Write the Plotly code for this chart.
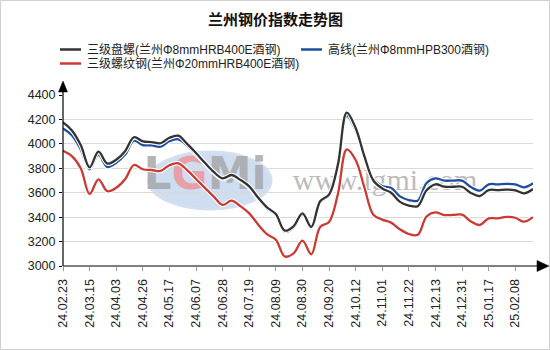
import plotly.graph_objects as go

# ---------------- data ----------------
tick_labels = ["24.02.23", "24.03.15", "24.04.03", "24.04.26", "24.05.17", "24.06.07",
               "24.06.28", "24.07.19", "24.08.09", "24.08.30", "24.09.20", "24.10.12",
               "24.11.01", "24.11.22", "24.12.13", "24.12.31", "25.01.17", "25.02.08"]
points_per_label = 3

pan_luo = [4176, 4110, 3990, 3808, 3936, 3838, 3870, 3940, 4054, 4020, 4015, 4005,
           4050, 4067, 4000, 3925, 3845, 3770, 3718, 3745, 3705, 3652, 3560, 3480,
           3425, 3290, 3325, 3431, 3320, 3530, 3585, 3830, 4255, 4130, 3895, 3700,
           3635, 3600, 3525, 3495, 3490, 3620, 3669, 3649, 3649, 3649, 3598, 3573,
           3622, 3622, 3626, 3620, 3595, 3630]
gao_xian = [4127, 4070, 3955, 3792, 3909, 3810, 3845, 3912, 4026, 3990, 3988, 3977,
            4022, 4037, 3985, 3915, 3840, 3765, 3712, 3738, 3700, 3645, 3550, 3470,
            3415, 3280, 3315, 3420, 3312, 3520, 3578, 3815, 4230, 4110, 3895, 3710,
            3655, 3640, 3570, 3540, 3535, 3680, 3718, 3699, 3699, 3699, 3646, 3617,
            3669, 3669, 3673, 3668, 3644, 3677]
luo_wen = [3944, 3900, 3800, 3590, 3710, 3612, 3640, 3710, 3827, 3792, 3786, 3778,
           3825, 3841, 3785, 3712, 3640, 3568, 3500, 3535, 3490, 3431, 3340, 3260,
           3215, 3078, 3104, 3207, 3096, 3320, 3360, 3590, 3955, 3868, 3640, 3420,
           3380, 3355, 3300, 3262, 3255, 3405, 3439, 3417, 3418, 3420, 3365, 3336,
           3390, 3390, 3402, 3395, 3363, 3400]

series_names = ["三级盘螺(兰州Φ8mmHRB400E酒钢)", "高线(兰州Φ8mmHPB300酒钢)",
                "三级螺纹钢(兰州Φ20mmHRB400E酒钢)"]
colors = ["#333333", "#1f4e9f", "#cc3a33"]
title_text = "兰州钢价指数走势图"
y_min, y_max, y_step = 3000, 4400, 200

# ---------------- layout geometry ----------------
W, H = 550, 350
L, R, T, B = 63, 17, 95, 84
PW, PH = W - L - R, H - T - B
FONT = "Liberation Sans, Arial, Noto Sans CJK SC, sans-serif"

def px(x):
    return (x - L) / PW

def py(y):
    return (H - B - y) / PH

n = len(pan_luo)
xs = list(range(n))
tickvals = xs[::points_per_label][:len(tick_labels)]

fig = go.Figure()

def data_x(p):
    return (p - L) / PW * (n - 1)

def data_y(p):
    return y_min + (H - B - p) / PH * (y_max - y_min)

# watermark (drawn first so lines are on top)
fig.add_trace(go.Scatter(
    x=[data_x(205)], y=[data_y(178)],
    mode="text",
    text=['<b><span style="color:rgba(165,165,165,0.9)">L</span>'
          '<span style="color:rgba(240,140,140,0.85)">G</span>'
          '<span style="color:rgba(165,165,165,0.9)">Mi</span></b>'],
    textfont=dict(size=44, family="DejaVu Sans", color="rgba(165,165,165,0.9)"),
    hoverinfo="skip", showlegend=False, cliponaxis=False))
fig.add_trace(go.Scatter(
    x=[data_x(385)], y=[data_y(182)],
    mode="text", text=["www.lgmi.com"],
    textfont=dict(size=30, family="Liberation Serif",
                  color="rgba(175,175,175,0.85)"),
    hoverinfo="skip", showlegend=False, cliponaxis=False))

for vals, c in [(luo_wen, colors[2]), (gao_xian, colors[1]), (pan_luo, colors[0])]:
    fig.add_trace(go.Scatter(x=xs, y=vals, mode="lines",
                             line=dict(color="white", width=4.5, shape="spline"),
                             hoverinfo="skip", showlegend=False))
    fig.add_trace(go.Scatter(x=xs, y=vals, mode="lines",
                             line=dict(color=c, width=2.3, shape="spline"),
                             showlegend=False))

shapes = []
# watermark ellipse
shapes.append(dict(type="circle", xref="paper", yref="paper",
                   x0=px(149), x1=px(271), y0=py(209), y1=py(152),
                   fillcolor="rgba(175,198,232,0.6)",
                   line=dict(color="rgba(210,222,240,0.95)", width=3), layer="below"))
# axis lines
shapes.append(dict(type="line", xref="paper", yref="paper",
                   x0=px(63), x1=px(538), y0=py(266), y1=py(266),
                   line=dict(color="black", width=1.2)))
shapes.append(dict(type="line", xref="paper", yref="paper",
                   x0=px(63), x1=px(63), y0=py(266), y1=py(90),
                   line=dict(color="black", width=1.2)))
# arrows
shapes.append(dict(type="path", xref="paper", yref="paper",
                   path=f"M {px(549)} {py(266)} L {px(537)} {py(260.5)} L {px(537)} {py(271.5)} Z",
                   fillcolor="black", line=dict(color="black", width=0.5)))
shapes.append(dict(type="path", xref="paper", yref="paper",
                   path=f"M {px(63)} {py(81)} L {px(58.5)} {py(92)} L {px(67.5)} {py(92)} Z",
                   fillcolor="black", line=dict(color="black", width=0.5)))
# outer border
shapes.append(dict(type="rect", xref="paper", yref="paper",
                   x0=px(0.5), x1=px(549.5), y0=py(349.5), y1=py(0.5),
                   line=dict(color="#cfcfcf", width=1), fillcolor="rgba(0,0,0,0)"))

# legend (manual)
legend_pos = [(60, 49.5), (301, 49.5), (60, 63.5)]
annotations = []
for (lx, ly), name, c in zip(legend_pos, series_names, colors):
    shapes.append(dict(type="line", xref="paper", yref="paper",
                       x0=px(lx), x1=px(lx + 21), y0=py(ly), y1=py(ly),
                       line=dict(color=c, width=2.5)))
    annotations.append(dict(xref="paper", yref="paper", x=px(lx + 25), y=py(ly),
                            xanchor="left", yanchor="middle", text=name,
                            showarrow=False,
                            font=dict(size=12, color="#222", family=FONT)))

annotations.append(dict(xref="paper", yref="paper", x=px(275), y=py(18),
                        xanchor="center", yanchor="middle",
                        text=f"<b>{title_text}</b>", showarrow=False,
                        font=dict(size=15, color="#111",
                                  family="Noto Sans CJK SC, sans-serif")))

fig.update_layout(
    width=W, height=H, autosize=False,
    margin=dict(l=L, r=R, t=T, b=B, pad=0),
    paper_bgcolor="white", plot_bgcolor="white",
    font=dict(family=FONT, size=12, color="#222"),
    shapes=shapes, annotations=annotations,
    showlegend=False,
    xaxis=dict(range=[0, n - 1], tickvals=tickvals, ticktext=tick_labels,
               tickangle=-90, ticks="outside", ticklen=4, tickcolor="#999",
               showgrid=False, zeroline=False, showline=False,
               tickfont=dict(size=12.5, color="#222", family=FONT),
               ticklabelstandoff=3, fixedrange=True),
    yaxis=dict(range=[y_min, y_max], dtick=y_step, tick0=y_min,
               ticks="outside", ticklen=3, tickcolor="black",
               showgrid=True, gridcolor="#d9d9d9", gridwidth=1,
               zeroline=False, showline=False,
               tickfont=dict(size=12.5, color="#222", family=FONT),
               ticklabelstandoff=1, fixedrange=True),
)

fig.write_html("out.html", config={"displayModeBar": False})
